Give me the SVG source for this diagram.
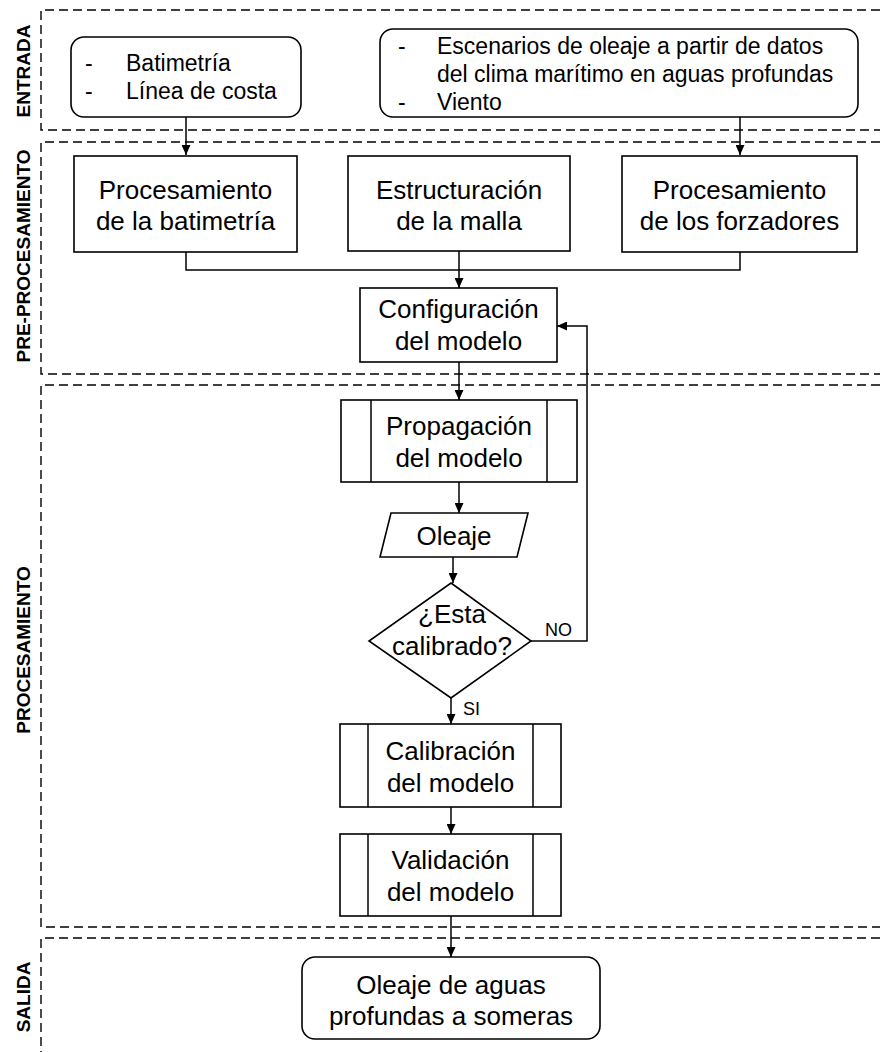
<svg xmlns="http://www.w3.org/2000/svg" width="880" height="1052" viewBox="0 0 880 1052">
<defs>
<marker id="arr" markerUnits="userSpaceOnUse" markerWidth="10" markerHeight="9" refX="10" refY="4.5" orient="auto">
<path d="M0,0 L10,4.5 L0,9 z" fill="#000"/>
</marker>
<style>
.lane{fill:none;stroke:#000;stroke-width:1.4;stroke-dasharray:9,5}
.lbl{font-family:"Liberation Sans",Arial,sans-serif;font-weight:bold;font-size:19px;fill:#000;text-anchor:middle}
.box{fill:#fff;stroke:#000;stroke-width:1.6}
.t{font-family:"Liberation Sans",Arial,sans-serif;font-size:26px;fill:#000;text-anchor:middle}
.ts{font-family:"Liberation Sans",Arial,sans-serif;font-size:23px;fill:#000}
.sm{font-family:"Liberation Sans",Arial,sans-serif;font-size:18px;fill:#000}
.c{fill:none;stroke:#000;stroke-width:1.5}
</style>
</defs>
<rect width="880" height="1052" fill="#fff"/>
<g id="lanes">
<path class="lane" d="M880,10 H41 V130 H880"/>
<path class="lane" d="M880,142 H41 V374 H880"/>
<path class="lane" d="M880,385 H41 V927 H880"/>
<path class="lane" d="M880,938 H41 V1052"/>
<text class="lbl" transform="translate(30,71) rotate(-90)">ENTRADA</text>
<text class="lbl" transform="translate(30,256) rotate(-90)">PRE-PROCESAMIENTO</text>
<text class="lbl" transform="translate(30,650) rotate(-90)">PROCESAMIENTO</text>
<text class="lbl" transform="translate(30,997) rotate(-90)">SALIDA</text>
</g>
<g id="connectors">
<path class="c" d="M186,117 V155" marker-end="url(#arr)"/>
<path class="c" d="M740,117 V155" marker-end="url(#arr)"/>
<path class="c" d="M186,252 V270 H740 V252 M459,251 V270"/>
<path class="c" d="M459,270 V288" marker-end="url(#arr)"/>
<path class="c" d="M459,362 V400" marker-end="url(#arr)"/>
<path class="c" d="M459,482 V513" marker-end="url(#arr)"/>
<path class="c" d="M453,557 V583" marker-end="url(#arr)"/>
<path class="c" d="M531,641 H587 V326 H557" marker-end="url(#arr)"/>
<path class="c" d="M451,698 V724" marker-end="url(#arr)"/>
<path class="c" d="M451,807 V834" marker-end="url(#arr)"/>
<path class="c" d="M451,916 V957" marker-end="url(#arr)"/>
<text class="sm" x="545" y="636">NO</text>
<text class="sm" x="463" y="715">SI</text>
</g>
<g id="n-batimetria-in">
<rect class="box" x="71" y="37" width="230" height="80" rx="13"/>
<text class="ts" x="85" y="71">-</text>
<text class="ts" x="126" y="71">Batimetría</text>
<text class="ts" x="85" y="99">-</text>
<text class="ts" x="126" y="99">Línea de costa</text>
</g>
<g id="n-escenarios">
<rect class="box" x="380" y="29" width="478" height="88" rx="13"/>
<text class="ts" x="398" y="54">-</text>
<text class="ts" x="437" y="54">Escenarios de oleaje a partir de datos</text>
<text class="ts" x="437" y="82">del clima marítimo en aguas profundas</text>
<text class="ts" x="398" y="110">-</text>
<text class="ts" x="437" y="110">Viento</text>
</g>
<g id="n-proc-bat">
<rect class="box" x="74" y="156" width="223" height="96"/>
<text class="t" x="185.5" y="199">Procesamiento</text>
<text class="t" x="185.5" y="230">de la batimetría</text>
</g>
<g id="n-estructuracion">
<rect class="box" x="348" y="156" width="222" height="95"/>
<text class="t" x="459" y="199">Estructuración</text>
<text class="t" x="459" y="230">de la malla</text>
</g>
<g id="n-forzadores">
<rect class="box" x="622" y="156" width="235" height="96"/>
<text class="t" x="739.5" y="199">Procesamiento</text>
<text class="t" x="739.5" y="230">de los forzadores</text>
</g>
<g id="n-configuracion">
<rect class="box" x="360" y="288" width="197" height="74"/>
<text class="t" x="458.5" y="318">Configuración</text>
<text class="t" x="458.5" y="350">del modelo</text>
</g>
<g id="n-propagacion">
<rect class="box" x="341" y="400" width="236" height="82"/>
<path class="c" d="M371,400 V482 M547,400 V482"/>
<text class="t" x="459" y="435">Propagación</text>
<text class="t" x="459" y="467">del modelo</text>
</g>
<g id="n-oleaje">
<path class="box" d="M391,513 H528 L517,557 H380 Z"/>
<text class="t" x="454" y="545">Oleaje</text>
</g>
<g id="n-calibrado">
<path class="box" d="M451,583 L531,641 L451,698 L369,641 Z"/>
<text class="t" x="452" y="623">¿Esta</text>
<text class="t" x="452" y="655">calibrado?</text>
</g>
<g id="n-calibracion">
<rect class="box" x="340" y="724" width="221" height="83"/>
<path class="c" d="M368,724 V807 M533,724 V807"/>
<text class="t" x="450.5" y="760">Calibración</text>
<text class="t" x="450.5" y="792">del modelo</text>
</g>
<g id="n-validacion">
<rect class="box" x="340" y="834" width="221" height="82"/>
<path class="c" d="M368,834 V916 M533,834 V916"/>
<text class="t" x="450.5" y="869">Validación</text>
<text class="t" x="450.5" y="901">del modelo</text>
</g>
<g id="n-salida">
<rect class="box" x="302" y="957" width="298" height="82" rx="13"/>
<text class="t" x="451" y="994">Oleaje de aguas</text>
<text class="t" x="451" y="1025">profundas a someras</text>
</g>
</svg>
